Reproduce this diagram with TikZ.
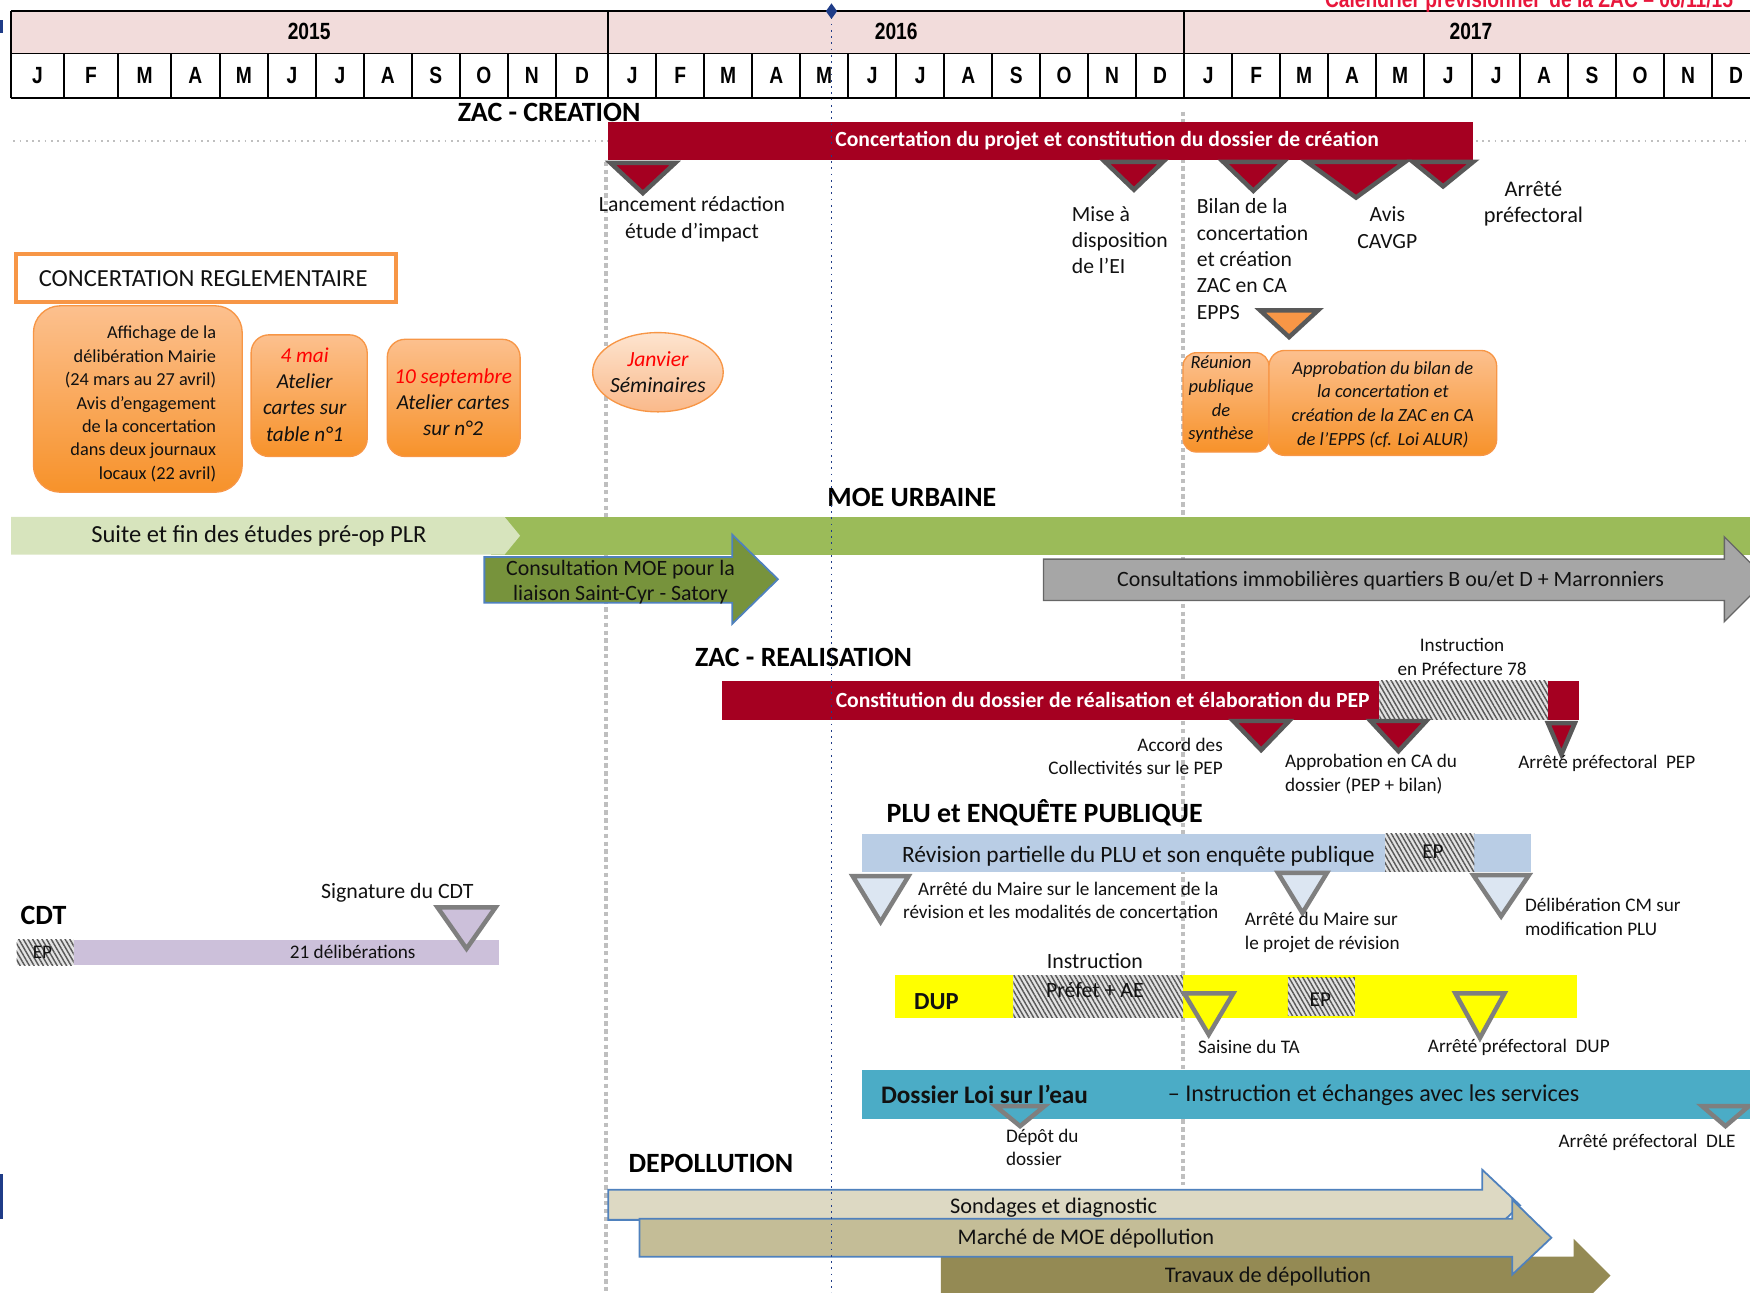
\documentclass[tikz,border=0pt]{standalone}
\usepackage{fontspec}
\setmainfont{Carlito}
\newfontfamily\narrowfont[FakeStretch=0.82]{Liberation Sans}
\usetikzlibrary{patterns,patterns.meta,calc}

\definecolor{hdrpink}{HTML}{F2DCDB}
\definecolor{zacred}{HTML}{A50021}
\definecolor{msgray}{HTML}{595959}
\definecolor{msgraylt}{HTML}{7F7F7F}
\definecolor{orng}{HTML}{F79646}
\definecolor{orngtop}{HTML}{FCC08E}
\definecolor{orngbot}{HTML}{F7922A}
\definecolor{ellitop}{HTML}{FDE4CF}
\definecolor{ellibot}{HTML}{FAB98A}
\definecolor{ltgreen}{HTML}{D7E4BD}
\definecolor{moegreen}{HTML}{9BBB59}
\definecolor{dkgreen}{HTML}{77933C}
\definecolor{arrblue}{HTML}{4F81BD}
\definecolor{grayarr}{HTML}{A6A6A6}
\definecolor{plublue}{HTML}{B9CDE5}
\definecolor{plutri}{HTML}{DCE6F2}
\definecolor{cdtpurple}{HTML}{CCC0DA}
\definecolor{dupyellow}{HTML}{FFFF00}
\definecolor{eauteal}{HTML}{4BACC6}
\definecolor{tanA}{HTML}{DDD9C3}
\definecolor{tanB}{HTML}{C4BD97}
\definecolor{tanC}{HTML}{948A54}
\definecolor{todayblue}{HTML}{1F3C88}
\definecolor{guidegray}{HTML}{BFBFBF}
\definecolor{txt}{HTML}{111111}
\definecolor{redtxt}{HTML}{FF0000}
\definecolor{titlered}{HTML}{E8173C}

\newcommand{\mstri}[5]{\draw[#1] ({#2-#4},#3) -- ({#2+#4},#3) -- (#2,#5) -- cycle;}

\tikzset{
  every node/.style={inner sep=0pt, text=txt},
  hdr/.style={font=\narrowfont\bfseries\fontsize{10.5}{12}\selectfont, text=black},
  sect/.style={font=\bfseries\fontsize{12.5}{15}\selectfont, text=black},
  lbl/.style={font=\fontsize{9.7}{11.8}\selectfont},
  sml/.style={font=\fontsize{8.6}{10.5}\selectfont},
  bartxt/.style={font=\bfseries\fontsize{9.7}{11}\selectfont, text=white},
  obox/.style={draw=orng, line width=0.6pt, top color=orngtop, bottom color=orngbot},
  otxt/.style={font=\itshape\fontsize{9.5}{11.8}\selectfont, align=center},
  osml/.style={font=\itshape\fontsize{8.3}{10.6}\selectfont, align=center},
  mstone/.style={draw=msgray, line width=2pt, line join=miter},
  mstonelt/.style={draw=msgraylt, line width=2pt, line join=miter},
  hatch/.style={fill=gray!22, postaction={pattern={Lines[angle=-60,distance=1.8pt,line width=0.65pt]}, pattern color=gray!70!black}},
  guide/.style={draw=guidegray, line width=1.6pt, dash pattern=on 2pt off 1.5pt},
  hline/.style={draw=black, line width=0.8pt},
  arrtxt/.style={font=\fontsize{10}{12}\selectfont},
}

\begin{document}
\begin{tikzpicture}[x=0.5pt, y=-0.5pt]
\useasboundingbox (0,0) rectangle (1568,1158);

% ---------- guides (behind) ----------
\draw[guide] (543,145) -- (543,1158);
\draw[guide] (1060,100) -- (1060,1062);
\draw[guidegray, line width=0.8pt, dotted] (12,126) -- (1568,126);

% ---------- header ----------
\fill[hdrpink] (10,10) rectangle (1568,48);
\fill[white] (10,48) rectangle (1568,88);
\draw[hline] (10,10) -- (1568,10);
\draw[hline] (10,48) -- (1568,48);
\draw[hline] (10,88) -- (1568,88);
\draw[hline] (10,10) -- (10,88);
\draw[hline] (545,10) -- (545,88);
\draw[hline] (1061,10) -- (1061,88);
\node[hdr] (y2015) at (277,28) {2015};
\node[hdr] (y2016) at (803,28) {2016};
\node[hdr] (y2017) at (1318,28) {2017};
\foreach \a/\b/\m [count=\i] in {10/57/J,57/106/F,106/153/M,153/197/A,197/240/M,240/283/J,283/326/J,326/369/A,369/412/S,412/455/O,455/498/N,498/545/D,
 545/588/J,588/631/F,631/674/M,674/717/A,717/760/M,760/803/J,803/846/J,846/889/A,889/932/S,932/975/O,975/1018/N,1018/1061/D,
 1061/1104/J,1104/1147/F,1147/1190/M,1190/1233/A,1233/1276/M,1276/1319/J,1319/1362/J,1362/1405/A,1405/1448/S,1448/1491/O,1491/1534/N,1534/1577/D}
{
  \draw[hline] (\b,48) -- (\b,88);
  \node[hdr] (m\i) at ({(\a+\b)/2},68) {\m};
}
\node[font=\narrowfont\bfseries\fontsize{10.5}{12}\selectfont, text=titlered, anchor=base] (caltitle) at (1370,7) {Calendrier prévisionnel\ \ de la ZAC – 06/11/15};
\draw[todayblue, line width=1.5pt] (1,18) -- (1,30);
\draw[todayblue, line width=1.5pt] (1,1052) -- (1,1092);

% ---------- ZAC CREATION ----------
\node[sect] (zaccrea) at (492,101) {ZAC - CREATION};
\fill[zacred] (545,109) rectangle (1320,143);
\node[bartxt] (concertbar) at (992,126) {Concertation du projet et constitution du dossier de création};
\mstri{mstone,fill=zacred}{576}{146}{29}{173}
\mstri{mstone,fill=zacred}{1016}{145}{26}{170}
\mstri{mstone,fill=zacred}{1123}{145}{27}{171}
\mstri{mstone,fill=zacred}{1215}{145}{44}{177}
\mstri{mstone,fill=zacred}{1293}{145}{27}{167}
\mstri{mstone,fill=orng}{1155}{278}{26}{302}
\node[lbl, align=center] (lanc) at (620,196.5) {Lancement rédaction\\étude d’impact};
\node[lbl, align=left, anchor=west] (mise) at (960,215) {Mise à\\disposition\\de l’EI};
\node[lbl, align=left, anchor=west] (bilan) at (1072,232) {Bilan de la\\concertation\\et création\\ZAC en CA\\EPPS};
\node[lbl, align=center] (avis) at (1243,204) {Avis\\CAVGP};
\node[font=\fontsize{10}{12}\selectfont, align=center] (arrete1) at (1374,182.5) {Arrêté\\préfectoral};

% ---------- CONCERTATION REGLEMENTAIRE ----------
\draw[orng, line width=1.8pt, fill=white] (14,228) rectangle (355,271);
\node[font=\fontsize{11}{13}\selectfont] (concreg) at (182,250) {CONCERTATION REGLEMENTAIRE};
\path[obox, rounded corners=12pt] (30,274) rectangle (217,441);
\node[font=\fontsize{8.2}{10.5}\selectfont, align=right, anchor=east] (affichage) at (194,362) {Affichage de la\\délibération Mairie\\(24 mars au 27 avril)\\Avis d'engagement\\de la concertation\\dans deux journaux\\locaux (22 avril)};
\path[obox, rounded corners=8pt] (225,300) rectangle (329,409);
\node[otxt] (mai) at (273,353.5) {\textcolor{redtxt}{4 mai}\\Atelier\\cartes sur\\table n°1};
\path[obox, rounded corners=8pt] (347,304) rectangle (466,409);
\node[otxt] (sept) at (406,360.5) {\textcolor{redtxt}{10 septembre}\\Atelier cartes\\sur n°2};
\path[draw=orng, line width=0.6pt, top color=ellitop, bottom color=ellibot] (589.5,333.5) ellipse [x radius=29.25pt, y radius=17.75pt];
\node[otxt, font=\itshape\fontsize{9.7}{11.5}\selectfont] (janv) at (589.5,333.5) {\textcolor{redtxt}{Janvier}\\Séminaires};
\path[obox, rounded corners=6pt] (1060,316) rectangle (1137,405);
\node[osml] (reunion) at (1094,358) {Réunion\\publique\\de\\synthèse};
\path[obox, rounded corners=7pt] (1137,314) rectangle (1341,408);
\node[osml] (approbilan) at (1239,362.5) {Approbation du bilan de\\la concertation et\\création de la ZAC en CA\\de l'EPPS (cf. Loi ALUR)};

% ---------- MOE URBAINE ----------
\node[sect] (moe) at (817,446) {MOE URBAINE};
\fill[moegreen] (440,463) rectangle (1568,497);
\fill[ltgreen] (10,463) -- (452,463) -- (466,480) -- (452,497) -- (10,497) -- cycle;
\node[font=\fontsize{11}{13}\selectfont] (suite) at (232,480) {Suite et fin des études pré-op PLR};
\draw[fill=dkgreen, draw=arrblue, line width=0.8pt] (434,499) -- (656,499) -- (656,479) -- (697,519) -- (656,559) -- (656,540) -- (434,540) -- cycle;
\node[font=\fontsize{9.8}{11.5}\selectfont, align=center] (consmoe) at (556,521.5) {Consultation MOE pour la\\liaison Saint-Cyr - Satory};
\draw[fill=grayarr, draw=gray!80!black, line width=0.6pt] (935,501) -- (1545,501) -- (1545,481) -- (1583,519) -- (1545,557) -- (1545,538) -- (935,538) -- cycle;
\node[font=\fontsize{9.8}{12}\selectfont] (consimmo) at (1246,520) {Consultations immobilières quartiers B ou/et D + Marronniers};

% ---------- ZAC REALISATION ----------
\node[sect] (zacreal) at (720,589) {ZAC - REALISATION};
\node[sml, align=center] (instr78) at (1310,588.5) {Instruction\\en Préfecture 78};
\fill[zacred] (647,610) rectangle (1415,645);
\path[hatch] (1236,610) rectangle (1387,645);
\node[bartxt] (constbar) at (988,627) {Constitution du dossier de réalisation et élaboration du PEP};
\mstri{mstone,fill=zacred}{1130}{646}{25}{672}
\mstri{mstone,fill=zacred}{1253}{646}{25}{673}
\mstri{mstone,fill=zacred}{1399}{648}{12}{676}
\node[sml, align=right, anchor=east] (accord) at (1096,677.5) {Accord des\\Collectivités sur le PEP};
\node[sml, align=left, anchor=west] (approca) at (1151,693.5) {Approbation en CA du\\dossier (PEP + bilan)};
\node[sml, anchor=west] (arrpep) at (1360,684) {Arrêté préfectoral\ \ PEP};

% ---------- PLU ----------
\node[sect] (plu) at (936,728) {PLU et ENQUÊTE PUBLIQUE};
\fill[plublue] (772,747) rectangle (1372,781);
\path[hatch] (1241,747) rectangle (1321,781);
\node[font=\fontsize{10.5}{12}\selectfont] (revbar) at (1020,767) {Révision partielle du PLU et son enquête publique};
\node[font=\fontsize{9.5}{11}\selectfont] (plep) at (1284,763) {EP};
\mstri{mstonelt,fill=plutri}{789}{785}{25}{826}
\mstri{mstonelt,fill=plutri}{1167}{782}{22}{818}
\mstri{mstonelt,fill=plutri}{1345}{784}{25}{821}
\node[sml, align=right, anchor=east] (plu1) at (1092,806.5) {Arrêté du Maire sur le lancement de la\\révision et les modalités de concertation};
\node[sml, align=left, anchor=west] (plu2) at (1115,835.5) {Arrêté du Maire sur\\le projet de révision};
\node[sml, align=left, anchor=west] (plu3) at (1366,821.5) {Délibération CM sur\\modification PLU};

% ---------- CDT ----------
\node[sect] (cdt) at (39,820) {CDT};
\node[font=\fontsize{9.8}{12}\selectfont] (sigcdt) at (356,800) {Signature du CDT};
\fill[cdtpurple] (15,842) rectangle (447,865);
\path[hatch] (15,842) rectangle (66,865);
\node[sml] (cdtep) at (38,853) {EP};
\node[sml] (delib) at (316,853) {21 délibérations};
\mstri{mstonelt,fill=cdtpurple}{418}{813}{26}{850}

% ---------- DUP ----------
\node[font=\fontsize{9.8}{12}\selectfont] (instrdup) at (981,861) {Instruction};
\fill[dupyellow] (802,874) rectangle (1413,912);
\path[hatch] (908,874) rectangle (1060,912);
\path[hatch] (1154,876) rectangle (1214,910);
\node[font=\bfseries\fontsize{11}{13}\selectfont] (dup) at (839,897) {DUP};
\node[font=\fontsize{9.8}{12}\selectfont] (prefet) at (981,887) {Préfet + AE};
\node[font=\fontsize{9.5}{11}\selectfont] (dupep) at (1183,896) {EP};
\mstri{mstonelt,fill=dupyellow}{1083}{890}{22}{927}
\mstri{mstonelt,fill=dupyellow}{1326}{890}{22}{930}
\node[sml, anchor=west] (saisine) at (1073,938) {Saisine du TA};
\node[sml, anchor=west] (arrdup) at (1279,938) {Arrêté préfectoral\ \ DUP};

% ---------- LOI SUR L'EAU ----------
\fill[eauteal] (772,959) rectangle (1568,1003);
\node[font=\bfseries\fontsize{11.3}{13}\selectfont, anchor=west] (loieau) at (789,981) {Dossier Loi sur l’eau};
\node[font=\fontsize{10.8}{13}\selectfont, anchor=west] (instreau) at (1046,981) {– Instruction et échanges avec les services};
\mstri{mstonelt,fill=eauteal}{914}{991}{22}{1009}
\mstri{mstonelt,fill=eauteal}{1546}{991}{21}{1009}
\node[sml, align=left, anchor=west] (depot) at (901,1028) {Dépôt du\\dossier};
\node[sml, anchor=west] (arrdle) at (1396,1024) {Arrêté préfectoral\ \ DLE};

% ---------- DEPOLLUTION ----------
\node[sect] (depol) at (637,1042) {DEPOLLUTION};
\draw[fill=tanA, draw=arrblue, line width=0.8pt] (545,1066) -- (1328,1066) -- (1328,1048) -- (1362,1080) -- (1328,1112) -- (1328,1093) -- (545,1093) -- cycle;
\fill[tanC] (843,1126) -- (1410,1126) -- (1410,1110) -- (1443,1143) -- (1410,1176) -- (1410,1162) -- (843,1162) -- cycle;
\draw[fill=tanB, draw=arrblue, line width=0.8pt] (573,1092) -- (1355,1092) -- (1355,1075) -- (1390,1109) -- (1355,1142) -- (1355,1126) -- (573,1126) -- cycle;
\node[arrtxt] (sondages) at (944,1082) {Sondages et diagnostic};
\node[arrtxt] (marche) at (973,1110) {Marché de MOE dépollution};
\node[arrtxt] (travaux) at (1136,1144) {Travaux de dépollution};

% ---------- today line (on top) ----------
\draw[todayblue, line width=0.8pt, dotted] (745,10) -- (745,1158);
\fill[todayblue] (745,3) -- (750,10) -- (745,17) -- (740,10) -- cycle;
\end{tikzpicture}
\end{document}
